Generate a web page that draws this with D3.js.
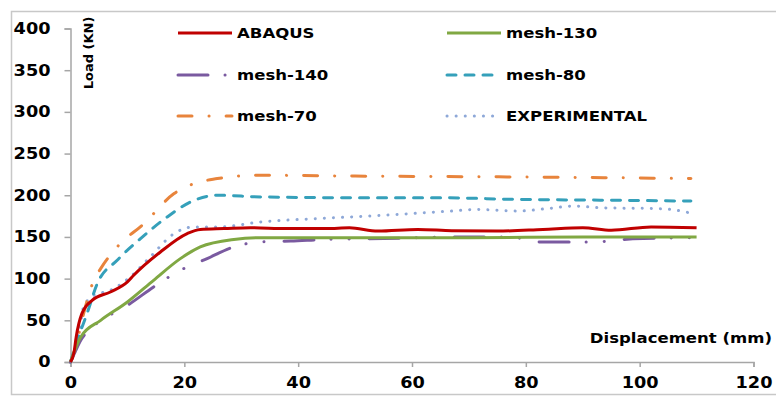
<!DOCTYPE html>
<html>
<head>
<meta charset="utf-8">
<script src="https://cdn.jsdelivr.net/npm/d3@7"></script>
<style>
  body { margin: 0; background: #fff; }
  text { font-family: "DejaVu Sans", sans-serif; font-weight: bold; fill: #000; }
</style>
</head>
<body>
<div id="chart"></div>
<script>
// values: displacement (mm) / load (kN)
const abaqusX = [0, 0.6, 1, 2, 3.8, 7, 10, 11.1, 15.8, 20.5, 22.8, 27, 31.6, 38, 45, 49, 54, 61, 67, 75, 83, 90, 95, 102, 110];
const abaqusY = [0, 11, 30, 58, 74, 84, 96, 104, 132, 154, 159, 160, 161, 160, 160, 161, 157, 159, 157.5, 157, 159, 161, 158, 162, 161];

const mesh130X = [0, 0.8, 1.8, 5.3, 10, 14.6, 19.3, 22.8, 28.7, 33.4, 50, 70, 90, 110];
const mesh130Y = [0, 15, 30, 50, 72, 98, 124, 138, 147, 149, 149, 149, 150, 150];

const mesh140X = [0, 0.8, 1.8, 3.5, 5.9, 10, 14.6, 19.3, 24, 28.7, 33.4, 38.7, 45, 55, 66.8, 77.3, 80, 82.6, 85.7, 92, 97.2, 100.6, 110];
const mesh140Y = [0, 12, 26, 40, 52, 68, 90, 110, 124, 138, 144, 145, 147, 148, 150, 150, 147, 144, 144, 144, 147, 148, 149];

const mesh80X = [0, 1.2, 2.9, 4.7, 8.2, 12.3, 17, 21.1, 25.8, 33.4, 50, 65, 78.5, 95, 109];
const mesh80Y = [0, 26, 58, 94, 122, 148, 174, 192, 200, 198, 197, 197, 195, 194, 193];

const mesh70X = [0, 0.9, 2.3, 4.1, 5.3, 8.2, 12.9, 18.2, 21.7, 25.8, 32.8, 50, 76.7, 95, 109];
const mesh70Y = [0, 18, 58, 98, 112, 138, 166, 202, 214, 220, 224, 223, 222, 221, 220];

const expX = [0, 1.5, 2.3, 4.1, 7, 10.5, 14, 18.2, 21.7, 26, 33.4, 43.4, 55, 66.8, 71.5, 78.5, 83.8, 88.5, 93.1, 102.5, 105.4, 108.7];
const expY = [0, 34, 66, 80, 86, 102, 126, 154, 162, 162, 168, 172, 176, 181, 183, 181, 184, 187, 185, 184, 183, 179];

const seriesNames = ['ABAQUS', 'mesh-130', 'mesh-140', 'mesh-80', 'mesh-70', 'EXPERIMENTAL'];
const xTicks = [0, 20, 40, 60, 80, 100, 120];
const yTicks = [0, 50, 100, 150, 200, 250, 300, 350, 400];

const width = 776, height = 396;
const stretch = 1.18; // source picture is a little wide

const svg = d3.select('#chart').append('svg')
  .attr('width', width)
  .attr('height', height);

// outer chart frame (runs off the right and bottom)
svg.append('rect')
  .attr('x', 11.5).attr('y', 11.5)
  .attr('width', 900).attr('height', 383)
  .attr('fill', 'none')
  .attr('stroke', '#c8c8c8')
  .attr('stroke-width', 1.5);

const x = d3.scaleLinear().domain([0, 120]).range([70.5, 753.5]);
const y = d3.scaleLinear().domain([0, 400]).range([362, 28.5]);

function widen(sel, k) {
  sel.each(function() {
    const w = this.getComputedTextLength();
    d3.select(this).attr('textLength', w * k).attr('lengthAdjust', 'spacingAndGlyphs');
  });
}

const yAxis = svg.append('g')
  .attr('transform', `translate(${x(0)},0)`)
  .call(d3.axisLeft(y).tickValues(yTicks).tickSize(6).tickPadding(14));
const xAxis = svg.append('g')
  .attr('transform', `translate(0,${y(0)})`)
  .call(d3.axisBottom(x).tickValues(xTicks).tickSize(5).tickPadding(10));

[xAxis, yAxis].forEach(a => {
  a.select('.domain').attr('stroke', '#a6a6a6').attr('stroke-width', 1.5);
  a.selectAll('.tick line').attr('stroke', '#a6a6a6').attr('stroke-width', 1.5);
  a.selectAll('.tick text')
    .attr('fill', '#000')
    .style('font-family', '"DejaVu Sans", sans-serif')
    .style('font-weight', 'bold')
    .style('font-size', '15px')
    .call(widen, stretch);
});

svg.append('text')
  .attr('transform', `translate(93,53) rotate(-90)`)
  .attr('text-anchor', 'middle')
  .style('font-size', '13px')
  .text('Load (KN)');

svg.append('text')
  .attr('x', 772).attr('y', 343)
  .attr('text-anchor', 'end')
  .style('font-size', '14px')
  .text('Displacement (mm)')
  .call(widen, stretch);

const styles = [
  { color: '#c00000', dash: null },
  { color: '#80a843', dash: null },
  { color: '#7a5aa0', dash: '30,17,0.1,18,0.1,20' },
  { color: '#35a0ba', dash: '9,9' },
  { color: '#e8843c', dash: '14,17,0.1,17' },
  { color: '#8ea8d8', dash: '0.1,9' }
];

const series = [
  [abaqusX, abaqusY],
  [mesh130X, mesh130Y],
  [mesh140X, mesh140Y],
  [mesh80X, mesh80Y],
  [mesh70X, mesh70Y],
  [expX, expY]
];

const line = d3.line()
  .x(d => x(d[0]))
  .y(d => y(d[1]))
  .curve(d3.curveMonotoneX);

// draw back to front so ABAQUS ends on top
const order = [5, 4, 3, 2, 1, 0];
order.forEach(i => {
  const [xs, ys] = series[i];
  const pts = xs.map((v, j) => [v, ys[j]]);
  svg.append('path')
    .datum(pts)
    .attr('fill', 'none')
    .attr('stroke', styles[i].color)
    .attr('stroke-width', 3)
    .attr('stroke-linecap', styles[i].dash ? 'round' : 'butt')
    .attr('stroke-dasharray', styles[i].dash)
    .attr('d', line);
});

// legend, two columns
const legend = svg.append('g');
const colX = [178, 447];
const rowY = [33, 75, 116];
seriesNames.forEach((name, i) => {
  const cx = colX[i % 2], cy = rowY[Math.floor(i / 2)];
  legend.append('line')
    .attr('x1', cx).attr('x2', cx + 54)
    .attr('y1', cy).attr('y2', cy)
    .attr('stroke', styles[i].color)
    .attr('stroke-width', 3)
    .attr('stroke-linecap', styles[i].dash ? 'round' : 'butt')
    .attr('stroke-dasharray', styles[i].dash);
  legend.append('text')
    .attr('x', cx + 59).attr('y', cy + 5)
    .style('font-size', '14px')
    .text(name)
    .call(widen, stretch);
});
</script>
</body>
</html>
